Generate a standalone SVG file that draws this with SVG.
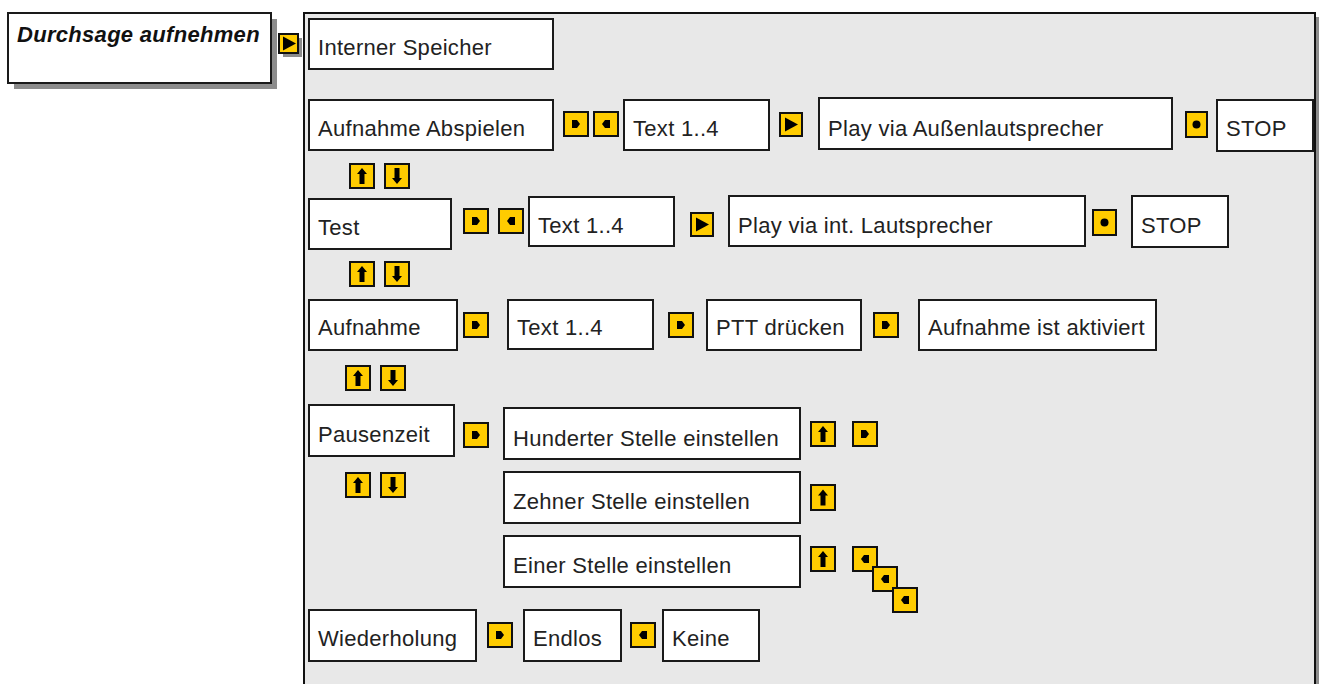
<svg xmlns="http://www.w3.org/2000/svg" xmlns:xlink="http://www.w3.org/1999/xlink" width="1320" height="684" viewBox="0 0 1320 684">
<style>
.box{fill:#fff;stroke:#1a1a1a;stroke-width:2}
.lbl{font-family:"Liberation Sans",Arial,sans-serif;font-size:22px;fill:#222;letter-spacing:0.3px}
.ttl{font-family:"Liberation Sans",Arial,sans-serif;font-size:22px;font-weight:bold;font-style:italic;fill:#111;letter-spacing:0.3px}
.ico{fill:#FFCC00;stroke:#111;stroke-width:2}
.gl{fill:#000}
.shd{fill:#8c8c8c}
</style>
<defs>
<path id="gNext" class="gl" d="M-4,-4 H1 L4,0 L1,4 H-4 Z"/>
<path id="gBack" class="gl" d="M4,-4 H-1 L-4,0 L-1,4 H4 Z"/>
<path id="gUp" class="gl" d="M0,-8 L5,-2 H2.5 V8 H-2.5 V-2 H-5 Z"/>
<path id="gDown" class="gl" d="M0,8 L5,2 H2.5 V-8 H-2.5 V2 H-5 Z"/>
<path id="gPlay" class="gl" d="M-6,-7 L7,0 L-6,7 Z"/>
<circle id="gDot" class="gl" r="4"/>
</defs>
<rect width="1320" height="684" fill="#fff"/>

<g id="title">
<rect class="shd" x="14" y="19" width="263" height="70"/>
<rect class="box" x="8" y="13" width="263" height="70"/>
<text class="ttl" x="17" y="42">Durchsage aufnehmen</text>
<rect class="shd" x="283" y="38" width="19" height="19"/>
<rect class="ico" x="279" y="34" width="19" height="19"/>
<use xlink:href="#gPlay" x="289" y="43.5"/>
</g>

<g id="panel">
<rect class="shd" x="308" y="17" width="1011" height="680"/>
<rect x="304" y="13" width="1011" height="680" fill="#e8e8e8" stroke="#111" stroke-width="2"/>
</g>

<g id="n-interner"><rect class="box" x="309" y="19" width="244" height="50"/><text class="lbl" x="318" y="55">Interner Speicher</text></g>
<g id="n-abspielen"><rect class="box" x="309" y="100" width="244" height="50"/><text class="lbl" x="318" y="136">Aufnahme Abspielen</text></g>
<g id="n-text1"><rect class="box" x="624" y="100" width="145" height="50"/><text class="lbl" x="633" y="136">Text 1..4</text></g>
<g id="n-playaussen"><rect class="box" x="819" y="98" width="353" height="51"/><text class="lbl" x="828" y="136">Play via Außenlautsprecher</text></g>
<g id="n-stop1"><rect class="box" x="1217" y="100" width="96" height="51"/><text class="lbl" x="1226" y="136">STOP</text></g>

<g id="n-test"><rect class="box" x="309" y="199" width="142" height="50"/><text class="lbl" x="318" y="235">Test</text></g>
<g id="n-text2"><rect class="box" x="529" y="197" width="145" height="49"/><text class="lbl" x="538" y="233">Text 1..4</text></g>
<g id="n-playint"><rect class="box" x="729" y="196" width="356" height="50"/><text class="lbl" x="738" y="233">Play via int. Lautsprecher</text></g>
<g id="n-stop2"><rect class="box" x="1132" y="196" width="96" height="51"/><text class="lbl" x="1141" y="233">STOP</text></g>

<g id="n-aufnahme"><rect class="box" x="309" y="300" width="148" height="50"/><text class="lbl" x="318" y="335">Aufnahme</text></g>
<g id="n-text3"><rect class="box" x="508" y="300" width="145" height="49"/><text class="lbl" x="517" y="335">Text 1..4</text></g>
<g id="n-ptt"><rect class="box" x="707" y="300" width="154" height="50"/><text class="lbl" x="716" y="335">PTT drücken</text></g>
<g id="n-aktiviert"><rect class="box" x="919" y="300" width="237" height="50"/><text class="lbl" x="928" y="335">Aufnahme ist aktiviert</text></g>

<g id="n-pausenzeit"><rect class="box" x="309" y="405" width="145" height="51"/><text class="lbl" x="318" y="442">Pausenzeit</text></g>
<g id="n-hunderter"><rect class="box" x="504" y="408" width="296" height="51"/><text class="lbl" x="513" y="446">Hunderter Stelle einstellen</text></g>
<g id="n-zehner"><rect class="box" x="504" y="472" width="296" height="51"/><text class="lbl" x="513" y="509">Zehner Stelle einstellen</text></g>
<g id="n-einer"><rect class="box" x="504" y="536" width="296" height="51"/><text class="lbl" x="513" y="573">Einer Stelle einstellen</text></g>

<g id="n-wiederholung"><rect class="box" x="309" y="610" width="167" height="51"/><text class="lbl" x="318" y="646">Wiederholung</text></g>
<g id="n-endlos"><rect class="box" x="524" y="610" width="97" height="51"/><text class="lbl" x="533" y="646">Endlos</text></g>
<g id="n-keine"><rect class="box" x="663" y="610" width="96" height="51"/><text class="lbl" x="672" y="646">Keine</text></g>

<g id="connectors">
<rect class="ico" x="564" y="112" width="24" height="24"/><use xlink:href="#gNext" x="576" y="124"/>
<rect class="ico" x="594" y="112" width="24" height="24"/><use xlink:href="#gBack" x="606" y="124"/>
<rect class="ico" x="780" y="113" width="22" height="23"/><use xlink:href="#gPlay" x="791" y="124.5"/>
<rect class="ico" x="1186" y="112" width="21" height="25"/><use xlink:href="#gDot" x="1196.5" y="124.5"/>
<rect class="ico" x="350" y="164" width="24" height="24"/><use xlink:href="#gUp" x="362" y="176"/>
<rect class="ico" x="385" y="164" width="24" height="24"/><use xlink:href="#gDown" x="397" y="176"/>
<rect class="ico" x="464" y="209" width="24" height="24"/><use xlink:href="#gNext" x="476" y="221"/>
<rect class="ico" x="499" y="209" width="24" height="24"/><use xlink:href="#gBack" x="511" y="221"/>
<rect class="ico" x="691" y="213" width="22" height="23"/><use xlink:href="#gPlay" x="702" y="224.5"/>
<rect class="ico" x="1093" y="210" width="23" height="25"/><use xlink:href="#gDot" x="1104.5" y="222.5"/>
<rect class="ico" x="350" y="262" width="24" height="24"/><use xlink:href="#gUp" x="362" y="274"/>
<rect class="ico" x="385" y="262" width="24" height="24"/><use xlink:href="#gDown" x="397" y="274"/>
<rect class="ico" x="464" y="313" width="24" height="24"/><use xlink:href="#gNext" x="476" y="325"/>
<rect class="ico" x="669" y="313" width="24" height="24"/><use xlink:href="#gNext" x="681" y="325"/>
<rect class="ico" x="874" y="313" width="24" height="24"/><use xlink:href="#gNext" x="886" y="325"/>
<rect class="ico" x="346" y="366" width="24" height="24"/><use xlink:href="#gUp" x="358" y="378"/>
<rect class="ico" x="381" y="366" width="24" height="24"/><use xlink:href="#gDown" x="393" y="378"/>
<rect class="ico" x="464" y="423" width="24" height="24"/><use xlink:href="#gNext" x="476" y="435"/>
<rect class="ico" x="811" y="422" width="24" height="24"/><use xlink:href="#gUp" x="823" y="434"/>
<rect class="ico" x="853" y="422" width="24" height="24"/><use xlink:href="#gNext" x="865" y="434"/>
<rect class="ico" x="811" y="485" width="24" height="25"/><use xlink:href="#gUp" x="823" y="497.5"/>
<rect class="ico" x="811" y="547" width="24" height="24"/><use xlink:href="#gUp" x="823" y="559"/>
<rect class="ico" x="853" y="547" width="24" height="24"/><use xlink:href="#gBack" x="865" y="559"/>
<rect class="ico" x="873" y="567" width="24" height="24"/><use xlink:href="#gBack" x="885" y="579"/>
<rect class="ico" x="893" y="588" width="24" height="24"/><use xlink:href="#gBack" x="905" y="600"/>
<rect class="ico" x="346" y="473" width="24" height="24"/><use xlink:href="#gUp" x="358" y="485"/>
<rect class="ico" x="381" y="473" width="24" height="24"/><use xlink:href="#gDown" x="393" y="485"/>
<rect class="ico" x="488" y="623" width="24" height="24"/><use xlink:href="#gNext" x="500" y="635"/>
<rect class="ico" x="631" y="623" width="24" height="24"/><use xlink:href="#gBack" x="643" y="635"/>
</g>
</svg>
